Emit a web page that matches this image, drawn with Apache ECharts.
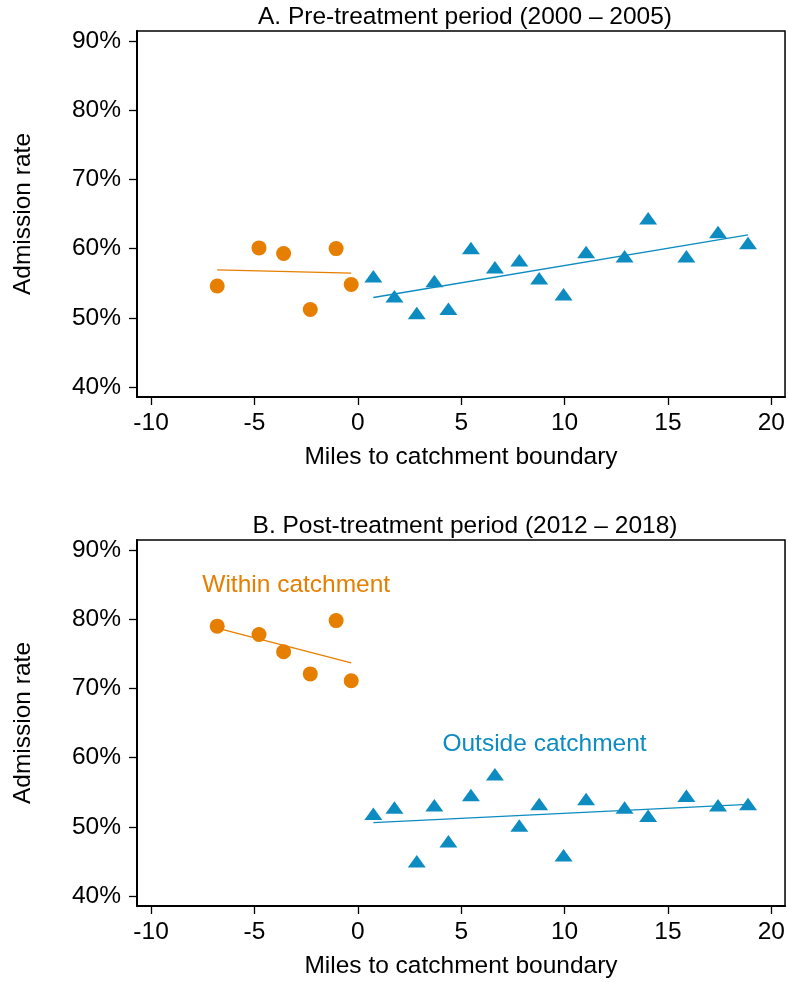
<!DOCTYPE html>
<html>
<head>
<meta charset="utf-8">
<script src="https://cdn.jsdelivr.net/npm/echarts@6/dist/echarts.min.js"></script>
<style>
html,body{margin:0;padding:0;background:#fff;}
#chart{width:788px;height:982px;}
</style>
</head>
<body>
<div id="chart"></div>
<script>
// ---- data ----
var xTicks = [-10, -5, 0, 5, 10, 15, 20];
var yTicks = [40, 50, 60, 70, 80, 90];

var withinX  = [-6.80, -4.78, -3.59, -2.30, -1.05, -0.32];
var withinA  = [54.6, 60.1, 59.3, 51.2, 60.0, 54.8];
var withinB  = [79.0, 77.8, 75.3, 72.1, 79.8, 71.1];

var outsideX = [0.75, 1.77, 2.85, 3.70, 4.38, 5.47, 6.63, 7.81, 8.77, 9.95, 11.04, 12.90, 14.04, 15.89, 17.42, 18.87];
var outsideA = [56.0, 53.1, 50.7, 55.3, 51.3, 60.1, 57.3, 58.3, 55.7, 53.4, 59.5, 58.9, 64.4, 58.9, 62.4, 60.8];
var outsideB = [51.9, 52.8, 45.0, 53.1, 47.9, 54.6, 57.6, 50.2, 53.3, 45.9, 54.0, 52.8, 51.6, 54.5, 53.1, 53.3];

var fitWithinX  = [-6.80, -0.32];
var fitWithinA  = [56.93, 56.45];
var fitWithinB  = [78.7, 73.7];
var fitOutsideX = [0.75, 18.87];
var fitOutsideA = [52.93, 61.98];
var fitOutsideB = [50.6, 53.25];

var titles = ['A. Pre-treatment period (2000 \u2013 2005)', 'B. Post-treatment period (2012 \u2013 2018)'];
var labelWithin = ['Within catchment', -2.98, 84.9];
var labelOutside = ['Outside catchment', 9.03, 61.9];

// ---- styling ----
var ORANGE = '#E67E00';
var BLUE = '#0C8CC0';
var FONT = 'Liberation Sans, Arial, Helvetica, sans-serif';
var FS = 24.5;

function zip(xs, ys) { return xs.map(function (x, i) { return [x, ys[i]]; }); }

function xAxisDef(idx) {
  return {
    type: 'value', gridIndex: idx, min: -10.68, max: 20.66,
    name: 'Miles to catchment boundary', nameLocation: 'middle', nameGap: 48,
    nameTextStyle: { fontSize: FS, color: '#000', fontFamily: FONT },
    axisLine: { show: true, onZero: false, lineStyle: { color: '#000', width: 2 } },
    axisTick: { show: true, length: 8, lineStyle: { color: '#000', width: 1.3 }, customValues: xTicks },
    axisLabel: { color: '#000', fontSize: FS, fontFamily: FONT, margin: 14, customValues: xTicks },
    splitLine: { show: false }
  };
}
function yAxisDef(idx) {
  return {
    type: 'value', gridIndex: idx, min: 38.55, max: 91.45,
    name: 'Admission rate', nameLocation: 'middle', nameGap: 101,
    nameTextStyle: { fontSize: FS, color: '#000', fontFamily: FONT },
    axisLine: { show: true, onZero: false, lineStyle: { color: '#000', width: 2 } },
    axisTick: { show: true, length: 8, lineStyle: { color: '#000', width: 1.3 }, customValues: yTicks },
    axisLabel: { color: '#000', fontSize: FS, fontFamily: FONT, margin: 16, formatter: '{value}%', customValues: yTicks },
    splitLine: { show: false }
  };
}

function textSeries(item, color) {
  return {
    type: 'scatter', xAxisIndex: 1, yAxisIndex: 1, silent: true,
    data: [[item[1], item[2], item[0]]], symbolSize: 1,
    itemStyle: { color: 'rgba(255,255,255,0)', opacity: 1 },
    label: { show: true, position: 'inside', formatter: function (p) { return p.data[2]; },
      color: color, opacity: 1, fontSize: FS, fontFamily: FONT, textBorderWidth: 0, textBorderColor: 'transparent' },
    z: 4
  };
}

var option = {
  animation: false,
  backgroundColor: '#fff',
  title: [
    { text: titles[0], left: 460, textAlign: 'center', top: 0,
      textStyle: { fontSize: FS, fontWeight: 'normal', color: '#000', fontFamily: FONT } },
    { text: titles[1], left: 460, textAlign: 'center', top: 509,
      textStyle: { fontSize: FS, fontWeight: 'normal', color: '#000', fontFamily: FONT } }
  ],
  grid: [
    { left: 137, right: 2.3, top: 31, height: 366, show: true, borderColor: '#000', borderWidth: 1.5, backgroundColor: '#fff' },
    { left: 137, right: 2.3, top: 540, height: 366, show: true, borderColor: '#000', borderWidth: 1.5, backgroundColor: '#fff' }
  ],
  xAxis: [xAxisDef(0), xAxisDef(1)],
  yAxis: [yAxisDef(0), yAxisDef(1)],
  series: [
    { type: 'line', xAxisIndex: 0, yAxisIndex: 0, data: zip(fitWithinX, fitWithinA), showSymbol: false, symbol: 'none',
      lineStyle: { color: ORANGE, width: 1.3 }, z: 2 },
    { type: 'line', xAxisIndex: 0, yAxisIndex: 0, data: zip(fitOutsideX, fitOutsideA), showSymbol: false, symbol: 'none',
      lineStyle: { color: BLUE, width: 1.3 }, z: 2 },
    { type: 'scatter', xAxisIndex: 0, yAxisIndex: 0, data: zip(withinX, withinA), symbol: 'circle', symbolSize: 15,
      itemStyle: { color: ORANGE, opacity: 1 }, z: 3 },
    { type: 'scatter', xAxisIndex: 0, yAxisIndex: 0, data: zip(outsideX, outsideA), symbol: 'triangle', symbolSize: [18, 12.5],
      itemStyle: { color: BLUE, opacity: 1 }, z: 3 },

    { type: 'line', xAxisIndex: 1, yAxisIndex: 1, data: zip(fitWithinX, fitWithinB), showSymbol: false, symbol: 'none',
      lineStyle: { color: ORANGE, width: 1.3 }, z: 2 },
    { type: 'line', xAxisIndex: 1, yAxisIndex: 1, data: zip(fitOutsideX, fitOutsideB), showSymbol: false, symbol: 'none',
      lineStyle: { color: BLUE, width: 1.3 }, z: 2 },
    { type: 'scatter', xAxisIndex: 1, yAxisIndex: 1, data: zip(withinX, withinB), symbol: 'circle', symbolSize: 15,
      itemStyle: { color: ORANGE, opacity: 1 }, z: 3 },
    { type: 'scatter', xAxisIndex: 1, yAxisIndex: 1, data: zip(outsideX, outsideB), symbol: 'triangle', symbolSize: [18, 12.5],
      itemStyle: { color: BLUE, opacity: 1 }, z: 3 },

    textSeries(labelWithin, ORANGE),
    textSeries(labelOutside, BLUE)
  ]
};

var chart = echarts.init(document.getElementById('chart'), null, { renderer: 'canvas' });
chart.setOption(option);
</script>
</body>
</html>
